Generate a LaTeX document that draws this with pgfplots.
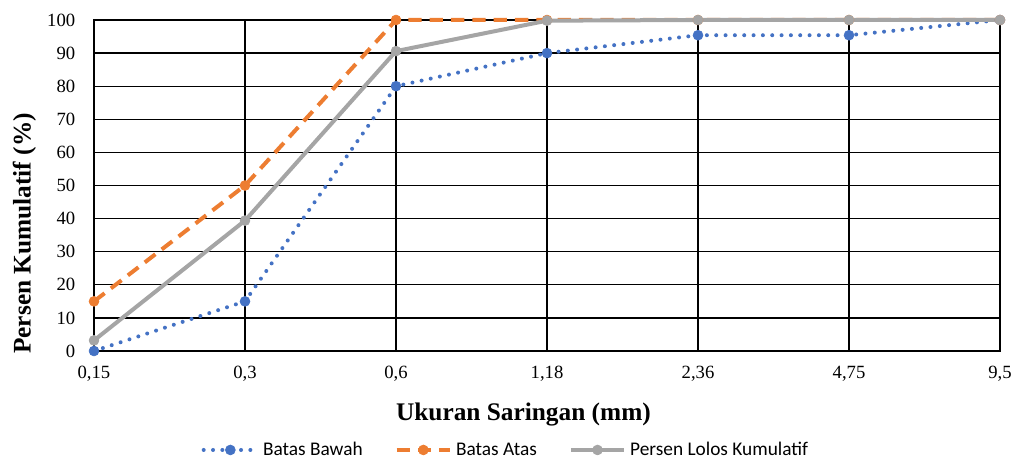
\documentclass[border=0pt]{standalone}
\usepackage{fontspec}
\setmainfont{Liberation Serif}
\newfontfamily\legendfont{Carlito}
\usepackage{pgfplots}
\pgfplotsset{compat=1.18}
\definecolor{cblue}{HTML}{4472C4}
\definecolor{corange}{HTML}{ED7D31}
\definecolor{cgray}{HTML}{A5A5A5}
\begin{document}
\begin{tikzpicture}
\begin{axis}[
  name=ax,
  scale only axis,
  width=679.5pt, height=248.25pt,
  xmin=0, xmax=6, ymin=0, ymax=100,
  xtick={0,1,2,3,4,5,6},
  xticklabels={{0,15},{0,3},{0,6},{1,18},{2,36},{4,75},{9,5}},
  ytick={0,10,...,100},
  /pgf/number format/assume math mode=true,
  tick style={draw=none},
  grid=major,
  grid style={black, line width=1pt},
  axis line style={black, line width=1pt},
  ticklabel style={font=\fontsize{14}{16}\selectfont},
  xticklabel style={anchor=base, inner sep=0pt, yshift=-20.5pt},
  yticklabel style={anchor=east, inner sep=0pt, xshift=-13.9pt},
  xlabel={\textbf{Ukuran Saringan (mm)}},
  ylabel={\textbf{Persen Kumulatif (\%)}},
  label style={font=\fontsize{19}{22}\selectfont},
  xlabel style={at={(axis description cs:0.474,0)}, anchor=base, inner sep=0pt, yshift=-51.75pt},
  ylabel style={at={(axis description cs:-0.07,0.355)}, anchor=base, inner sep=0pt},
  clip=false,
  legend columns=3,
  legend style={at={(axis description cs:0.455,-0.299)}, anchor=center, draw=none, fill=none,
    inner sep=0pt, row sep=0pt,
    font=\legendfont\fontsize{14.5}{16}\selectfont,
    nodes={inner xsep=2pt},
    /tikz/every odd column/.append style={column sep=1pt},
    /tikz/every even column/.append style={column sep=22pt}},
  legend image code/.code={
    \draw[#1] (0pt,0pt) -- (40pt,0pt);
    \draw[#1, solid] plot coordinates {(20pt,0pt)};
  },
]
\addplot[cblue, line width=3pt, line cap=round, dash pattern=on 0pt off 7pt, mark=*, mark size=3.7pt, mark options={solid, fill=cblue, draw=cblue, line width=0.5pt}]
  coordinates {(0,0) (1,15) (2,80) (3,90) (4,95.4) (5,95.4) (6,100)};
\addlegendentry{Batas Bawah}
\addplot[corange, line width=3pt, dash pattern=on 10pt off 6pt, mark=*, mark size=3.7pt, mark options={solid, fill=corange, draw=corange, line width=0.5pt}]
  coordinates {(0,15) (1,50) (2,100) (3,100) (4,100) (5,100) (6,100)};
\addlegendentry{Batas Atas}
\addplot[cgray, line width=3pt, line join=round, mark=*, mark size=3.7pt, mark options={solid, fill=cgray, draw=cgray, line width=0.5pt}]
  coordinates {(0,3.2) (1,39.4) (2,90.6) (3,99.8) (4,100) (5,100) (6,100)};
\addlegendentry{Persen Lolos Kumulatif}
\end{axis}
\pgfresetboundingbox
\path[use as bounding box] ([xshift=-70.5pt,yshift=-84.75pt]ax.south west) rectangle ([xshift=16.5pt,yshift=15pt]ax.north east);
\end{tikzpicture}
\end{document}
